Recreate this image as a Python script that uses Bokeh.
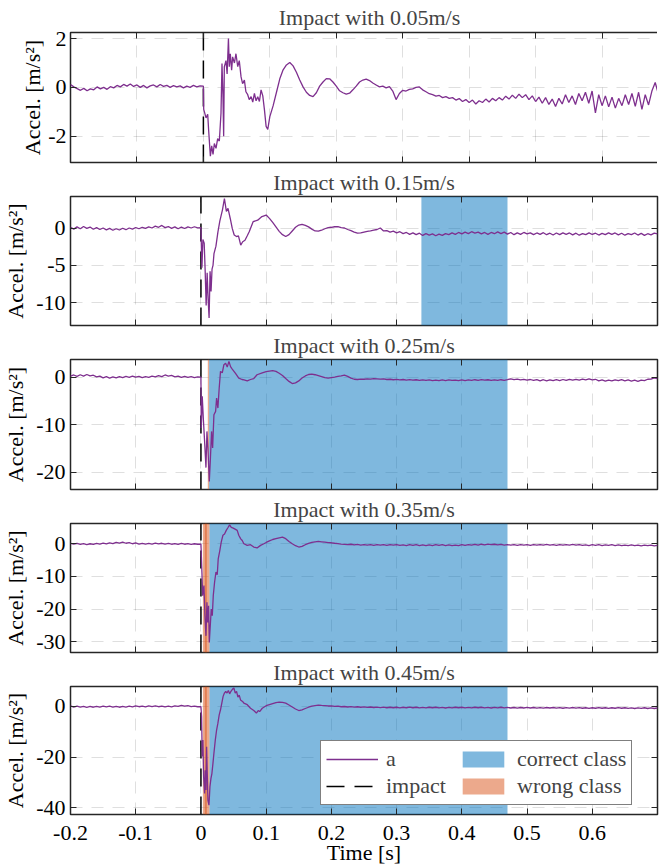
from bokeh.plotting import figure
from bokeh.layouts import column
from bokeh.models import Range1d, FixedTicker, LinearAxis, Legend, LegendItem, ColumnDataSource
from bokeh.embed import file_html
from bokeh.resources import INLINE

FONT = "Liberation Serif"
FS = "22px"
PURPLE = "#7E2F8E"
BLUE = "#0072BD"
ORANGE = "#D95319"

speeds = ["0.05", "0.15", "0.25", "0.35", "0.45"]
impact_t = 0.0

# ---------------- sample times ----------------
t_pre = [-0.200, -0.195, -0.190, -0.185, -0.180, -0.175, -0.170, -0.165, -0.160, -0.155,
         -0.150, -0.145, -0.140, -0.135, -0.130, -0.125, -0.120, -0.115, -0.110, -0.105,
         -0.100, -0.095, -0.090, -0.085, -0.080, -0.075, -0.070, -0.065, -0.060, -0.055,
         -0.050, -0.045, -0.040, -0.035, -0.030, -0.025, -0.020, -0.015, -0.010, -0.005]
t_tail = [0.100, 0.105, 0.110, 0.115, 0.120, 0.125, 0.130, 0.135, 0.140, 0.145,
          0.150, 0.155, 0.160, 0.165, 0.170, 0.175, 0.180, 0.185, 0.190, 0.195,
          0.200, 0.205, 0.210, 0.215, 0.220, 0.225, 0.230, 0.235, 0.240, 0.245,
          0.250, 0.255, 0.260, 0.265, 0.270, 0.275, 0.280, 0.285, 0.290, 0.295,
          0.300, 0.305, 0.310, 0.315, 0.320, 0.325, 0.330, 0.335, 0.340, 0.345,
          0.350, 0.355, 0.360, 0.365, 0.370, 0.375, 0.380, 0.385, 0.390, 0.395,
          0.400, 0.405, 0.410, 0.415, 0.420, 0.425, 0.430, 0.435, 0.440, 0.445,
          0.450, 0.455, 0.460, 0.465, 0.470, 0.475, 0.480, 0.485, 0.490, 0.495,
          0.500, 0.505, 0.510, 0.515, 0.520, 0.525, 0.530, 0.535, 0.540, 0.545,
          0.550, 0.555, 0.560, 0.565, 0.570, 0.575, 0.580, 0.585, 0.590, 0.595,
          0.600, 0.605, 0.610, 0.615, 0.620, 0.625, 0.630, 0.635, 0.640, 0.645,
          0.650, 0.655, 0.660, 0.665, 0.670, 0.675, 0.680, 0.685, 0.690, 0.695,
          0.700]

# ---------------- 0.05 m/s ----------------
a_pre_1 = [0.12, 0.02, -0.05, -0.12, -0.04, -0.14, -0.06, -0.10, 0.02, -0.06,
           0.00, -0.08, 0.03, -0.02, 0.08, 0.02, 0.12, 0.05, 0.14, 0.04,
           0.10, 0.00, 0.08, -0.02, 0.06, 0.10, 0.02, 0.12, 0.04, 0.08,
           0.00, 0.07, 0.02, 0.06, -0.02, 0.05, 0.00, 0.08, 0.02, 0.06]
t_imp_1 = [0.000, 0.0005, 0.004, 0.0065, 0.008, 0.0105, 0.0125, 0.0145, 0.0165, 0.019,
           0.0215, 0.024, 0.0265, 0.028, 0.0295, 0.0305, 0.0315, 0.034, 0.0357, 0.0377,
           0.039, 0.0405, 0.0425, 0.044, 0.0467, 0.049, 0.0517, 0.054, 0.0567, 0.059,
           0.0617, 0.064, 0.0667, 0.069, 0.0718, 0.0743, 0.0768, 0.0793, 0.0818, 0.0843,
           0.0868, 0.0894, 0.0919, 0.0944, 0.0969]
a_imp_1 = [0.05, -0.90, -1.25, -1.10, -1.80, -2.82, -2.40, -2.75, -2.30, -2.50,
           -2.10, -2.20, -1.06, 0.98, -0.40, -2.00, 0.84, 1.10, 0.55, 2.00,
           0.85, 1.38, 0.70, 1.25, 1.00, 1.38, 0.85, 1.10, 0.43, 0.15,
           0.30, -0.18, -0.30, -0.50, -0.38, -0.60, -0.25, -0.55, -0.38, -0.58,
           -0.10, -0.35, -0.92, -1.60, -1.72]
a_tail_1 = [-1.20, -0.75, -0.20, 0.35, 0.72, 0.92, 1.02, 0.88, 0.62, 0.30,
            0.02, -0.20, -0.33, -0.38, -0.22, 0.05, 0.22, 0.36, 0.35, 0.22,
            0.05, -0.14, -0.22, -0.28, -0.24, -0.10, 0.05, 0.22, 0.30, 0.34,
            0.28, 0.18, 0.10, 0.02, 0.05, -0.02, 0.03, -0.15, -0.50, -0.25,
            -0.12, -0.15, -0.08, -0.06, 0.00, 0.02, -0.10, -0.18, -0.26, -0.30,
            -0.36, -0.33, -0.42, -0.38, -0.45, -0.42, -0.52, -0.46, -0.58, -0.50,
            -0.62, -0.52, -0.68, -0.55, -0.62, -0.48, -0.60, -0.45, -0.55, -0.42,
            -0.52, -0.36, -0.48, -0.32, -0.45, -0.28, -0.42, -0.30, -0.50, -0.35,
            -0.58, -0.40, -0.65, -0.42, -0.70, -0.48, -0.78, -0.45, -0.68, -0.30,
            -0.62, -0.35, -0.70, -0.25, -0.55, -0.20, -0.65, -0.15, -1.05, -0.30,
            -0.75, -0.35, -0.80, -0.40, -0.85, -0.45, -0.75, -0.30, -0.70, -0.25,
            -0.78, -0.20, -0.90, -0.30, -0.72, -0.15, 0.20, -0.30, -0.65, -0.35,
            -0.50]

# ---------------- 0.15 m/s ----------------
a_pre_2 = [0.15, -0.10, 0.20, -0.05, 0.25, 0.00, 0.18, -0.12, 0.10, -0.15,
           0.05, -0.20, 0.00, -0.25, -0.05, -0.22, 0.02, -0.18, 0.05, -0.10,
           0.12, -0.05, 0.15, 0.00, 0.20, 0.05, 0.30, 0.15, 0.40, 0.10,
           0.25, 0.00, 0.20, -0.05, 0.18, -0.02, 0.20, 0.05, 0.22, 0.08]
t_imp_2 = [0.0000, 0.0015, 0.0030, 0.0050, 0.0065, 0.0080, 0.0095, 0.0110, 0.0125, 0.0140,
           0.0155, 0.0170, 0.0185, 0.0200, 0.0230, 0.0260, 0.0290, 0.0330, 0.0360, 0.0390,
           0.0415, 0.0450, 0.0480, 0.0510, 0.0545, 0.0575, 0.0610, 0.0640, 0.0675, 0.0710,
           0.0740, 0.0800, 0.0870, 0.0935]
a_imp_2 = [0.10, -5.3, -1.5, -2.0, -5.8, -10.4, -6.0, -9.5, -12.1, -5.8,
           -8.5, -5.5, -5.0, -3.4, -2.4, -0.5, 1.0, 2.5, 4.0, 2.3,
           2.7, 1.3, 0.0, -0.9, -1.1, -1.0, -2.25, -1.8, -1.6, -1.0,
           -0.45, 0.9, 1.1, 1.6]
a_tail_2 = [1.80, 1.35, 0.80, 0.20, -0.40, -0.85, -1.10, -0.85, -0.35, 0.15,
            0.45, 0.55, 0.40, 0.20, -0.10, -0.35, -0.38, -0.25, -0.05, 0.10,
            0.15, 0.22, 0.25, 0.10, 0.05, -0.15, -0.30, -0.50, -0.65, -0.62,
            -0.50, -0.40, -0.35, -0.25, -0.15, 0.05, -0.35, -0.30, -0.50, -0.38,
            -0.60, -0.45, -0.70, -0.55, -0.80, -0.60, -0.85, -0.65, -0.95, -0.70,
            -0.90, -0.75, -1.00, -0.78, -0.95, -0.70, -0.85, -0.60, -0.80, -0.55,
            -0.75, -0.50, -0.70, -0.45, -0.65, -0.50, -0.75, -0.55, -0.80, -0.55,
            -0.72, -0.48, -0.70, -0.50, -0.78, -0.55, -0.85, -0.60, -0.80, -0.55,
            -0.75, -0.60, -0.85, -0.62, -0.80, -0.58, -0.85, -0.65, -0.90, -0.62,
            -0.85, -0.60, -0.80, -0.62, -0.88, -0.65, -0.92, -0.70, -0.85, -0.60,
            -0.82, -0.65, -0.90, -0.68, -0.85, -0.60, -0.80, -0.62, -0.88, -0.66,
            -0.92, -0.70, -0.85, -0.62, -0.90, -0.68, -0.95, -0.72, -0.88, -0.65,
            -0.75]

# ---------------- 0.25 m/s ----------------
a_pre_3 = [0.20, 0.45, 0.15, 0.50, 0.20, 0.55, 0.25, 0.40, 0.05, 0.20,
           -0.15, 0.10, -0.20, 0.05, -0.15, 0.10, -0.10, 0.15, -0.05, 0.20,
           0.00, 0.15, -0.10, 0.10, -0.05, 0.20, 0.05, 0.30, 0.10, 0.45,
           0.20, 0.35, 0.05, 0.20, -0.05, 0.15, -0.05, 0.10, -0.10, 0.05]
t_imp_3 = [0.0000, 0.0005, 0.0020, 0.0036, 0.0056, 0.0077, 0.0092, 0.0107, 0.0128, 0.0143,
           0.0163, 0.0179, 0.0199, 0.0225, 0.0240, 0.0260, 0.0280, 0.0300, 0.0327, 0.0352,
           0.0378, 0.0403, 0.0429, 0.0454, 0.0480, 0.0530, 0.0580, 0.0630, 0.0660, 0.0710,
           0.0760, 0.0810, 0.0860, 0.0940]
a_imp_3 = [0.0, -10.7, -4.0, -8.6, -13.5, -19.0, -11.4, -14.9, -21.9, -17.7,
           -11.4, -14.9, -7.9, -7.2, -4.4, -6.5, -2.3, 1.2, 0.9, 2.6,
           2.9, 2.1, 3.3, 2.2, 1.7, 0.8, -0.2, -0.5, -0.6, -0.8,
           -0.5, -0.3, 0.5, 0.9]
a_tail_3 = [1.15, 1.25, 1.35, 1.20, 0.80, 0.35, -0.30, -0.90, -1.35, -1.20,
            -0.80, -0.20, 0.25, 0.55, 0.62, 0.50, 0.30, 0.10, -0.10, -0.20,
            -0.10, 0.00, 0.15, 0.25, 0.40, 0.15, -0.20, -0.45, -0.50, -0.40,
            -0.45, -0.35, -0.40, -0.30, -0.35, -0.42, -0.38, -0.50, -0.45, -0.55,
            -0.48, -0.58, -0.50, -0.62, -0.52, -0.65, -0.55, -0.68, -0.58, -0.70,
            -0.60, -0.72, -0.62, -0.75, -0.60, -0.72, -0.58, -0.70, -0.62, -0.75,
            -0.60, -0.72, -0.58, -0.70, -0.55, -0.68, -0.52, -0.65, -0.55, -0.68,
            -0.58, -0.70, -0.55, -0.68, -0.52, -0.35, -0.55, -0.40, -0.60, -0.45,
            -0.65, -0.50, -0.70, -0.52, -0.78, -0.55, -0.80, -0.60, -0.75, -0.55,
            -0.72, -0.50, -0.70, -0.48, -0.65, -0.45, -0.62, -0.40, -0.58, -0.35,
            -0.60, -0.45, -0.78, -0.60, -0.85, -0.62, -0.80, -0.58, -0.75, -0.55,
            -0.78, -0.60, -0.82, -0.65, -0.88, -0.62, -0.75, -0.45, -0.40, -0.15,
            -0.30]

# ---------------- 0.35 m/s ----------------
a_pre_4 = [0.15, -0.15, 0.10, -0.20, 0.05, -0.25, 0.00, -0.20, 0.10, -0.10,
           0.20, -0.05, 0.30, 0.05, 0.45, 0.20, 0.50, 0.15, 0.35, 0.00,
           0.25, -0.10, 0.15, -0.15, 0.10, -0.10, 0.20, -0.05, 0.15, -0.10,
           0.10, -0.15, 0.05, -0.20, 0.10, -0.15, 0.05, -0.20, 0.00, -0.15]
t_imp_4 = [0.0000, 0.0015, 0.0026, 0.0046, 0.0061, 0.0077, 0.0092, 0.0102, 0.0117, 0.0128,
           0.0143, 0.0158, 0.0174, 0.0189, 0.0209, 0.0230, 0.0250, 0.0265, 0.0290, 0.0311,
           0.0337, 0.0362, 0.0388, 0.0413, 0.0439, 0.0465, 0.0495, 0.0530, 0.0556, 0.0580,
           0.0610, 0.0633, 0.0658, 0.0710, 0.0760, 0.0810, 0.0860, 0.0914, 0.0965]
a_imp_4 = [-0.1, -8.7, -15.9, -12.8, -22.0, -28.2, -17.9, -24.1, -19.0, -30.2,
           -25.1, -20.0, -22.0, -15.9, -11.8, -8.7, -9.5, -4.6, -2.0, 0.5,
           2.6, 3.0, 4.1, 4.9, 5.8, 5.0, 4.8, 4.4, 4.1, 2.6,
           1.5, 1.0, 0.0, -0.5, -0.3, -1.0, -1.3, -0.5, 0.0]
a_tail_4 = [0.40, 0.90, 1.30, 1.55, 1.80, 2.00, 1.55, 0.70, 0.00, -0.60,
            -1.00, -0.80, -0.30, 0.10, 0.40, 0.60, 0.70, 0.60, 0.50, 0.35,
            0.30, 0.15, 0.05, -0.10, -0.20, -0.30, -0.15, -0.35, -0.20, -0.40,
            -0.25, -0.45, -0.30, -0.50, -0.30, -0.45, -0.25, -0.50, -0.30, -0.45,
            -0.25, -0.50, -0.35, -0.55, -0.30, -0.50, -0.30, -0.55, -0.35, -0.60,
            -0.35, -0.55, -0.30, -0.50, -0.30, -0.55, -0.35, -0.60, -0.40, -0.55,
            -0.30, -0.50, -0.25, -0.45, -0.20, -0.40, -0.15, -0.35, -0.10, -0.30,
            -0.15, -0.35, -0.20, -0.40, -0.25, -0.45, -0.30, -0.50, -0.30, -0.45,
            -0.25, -0.50, -0.30, -0.45, -0.25, -0.40, -0.20, -0.45, -0.25, -0.50,
            -0.30, -0.45, -0.25, -0.40, -0.20, -0.45, -0.30, -0.50, -0.35, -0.55,
            -0.30, -0.50, -0.30, -0.55, -0.35, -0.50, -0.30, -0.55, -0.35, -0.60,
            -0.40, -0.55, -0.35, -0.60, -0.40, -0.65, -0.45, -0.60, -0.40, -0.65,
            -0.50]

# ---------------- 0.45 m/s ----------------
a_pre_5 = [0.20, -0.25, 0.10, -0.30, 0.05, -0.35, 0.00, -0.30, 0.05, -0.25,
           0.15, -0.20, 0.10, -0.25, 0.05, -0.30, 0.00, -0.25, 0.10, -0.20,
           0.20, -0.10, 0.15, -0.15, 0.25, -0.05, 0.20, -0.10, 0.15, -0.20,
           0.10, -0.15, 0.20, 0.05, 0.45, 0.10, 0.30, -0.05, 0.15, -0.10]
t_imp_5 = [0.0000, 0.0010, 0.0020, 0.0030, 0.0041, 0.0056, 0.0066, 0.0077, 0.0087, 0.0097,
           0.0107, 0.0123, 0.0138, 0.0153, 0.0168, 0.0184, 0.0199, 0.0220, 0.0240, 0.0260,
           0.0280, 0.0300, 0.0320, 0.0340, 0.0360, 0.0380, 0.0400, 0.0420, 0.0440, 0.0460,
           0.0485, 0.0505, 0.0526, 0.0546, 0.0567, 0.0587, 0.0607, 0.0638, 0.0658, 0.0710,
           0.0760, 0.0810, 0.0850, 0.0878, 0.0900, 0.0940]
a_imp_5 = [-0.1, -4.0, -19.8, -13.3, -27.8, -34.4, -25.2, -33.0, -15.9, -26.5,
           -37.1, -39.0, -31.7, -28.5, -26.5, -22.5, -18.5, -13.3, -9.3, -6.6,
           -3.3, -1.3, 1.3, 4.0, 5.3, 6.0, 5.3, 6.3, 5.0, 6.0,
           6.9, 7.3, 5.3, 6.0, 3.7, 4.5, 2.6, 2.0, 1.3, 0.7,
           -0.7, -1.6, -2.6, -1.6, -2.0, -0.7]
a_tail_5 = [0.30, 0.70, 1.10, 1.50, 1.70, 1.60, 1.30, 0.60, -0.20, -1.00,
            -1.60, -1.30, -0.80, -0.30, 0.10, 0.30, 0.50, 0.40, 0.35, 0.20,
            0.25, 0.05, 0.10, -0.10, 0.00, -0.20, -0.05, -0.25, -0.10, -0.30,
            -0.15, -0.35, -0.20, -0.40, -0.25, -0.45, -0.25, -0.50, -0.30, -0.50,
            -0.30, -0.55, -0.30, -0.50, -0.25, -0.50, -0.30, -0.55, -0.35, -0.55,
            -0.30, -0.50, -0.30, -0.55, -0.35, -0.60, -0.35, -0.55, -0.30, -0.50,
            -0.30, -0.55, -0.35, -0.55, -0.30, -0.50, -0.30, -0.55, -0.35, -0.60,
            -0.35, -0.55, -0.30, -0.55, -0.35, -0.60, -0.40, -0.65, -0.40, -0.60,
            -0.35, -0.60, -0.40, -0.65, -0.45, -0.65, -0.40, -0.60, -0.40, -0.65,
            -0.45, -0.70, -0.45, -0.65, -0.40, -0.65, -0.45, -0.70, -0.50, -0.75,
            -0.50, -0.70, -0.45, -0.70, -0.50, -0.75, -0.50, -0.70, -0.45, -0.70,
            -0.50, -0.75, -0.55, -0.80, -0.55, -0.75, -0.50, -0.80, -0.55, -0.80,
            -0.60]

# classification windows [start, end] in s
correct_1 = []
correct_2 = [(0.338, 0.470)]
correct_3 = [(0.0125, 0.470)]
correct_4 = [(0.013, 0.470)]
correct_5 = [(0.013, 0.470)]
wrong_1 = []
wrong_2 = []
wrong_3 = [(0.0105, 0.0125)]
wrong_4 = [(0.003, 0.009), (0.006, 0.013)]
wrong_5 = [(0.003, 0.009), (0.006, 0.013)]

x_ticks = [-0.2, -0.1, 0.0, 0.1, 0.2, 0.3, 0.4, 0.5, 0.6]
x_tick_labels = ["-0.2", "-0.1", "0", "0.1", "0.2", "0.3", "0.4", "0.5", "0.6"]

panels = [
    dict(a_pre=a_pre_1, t_imp=t_imp_1, a_imp=a_imp_1, a_tail=a_tail_1, ylim=(-3.08, 2.25),
         yticks=[-2, 0, 2], correct=correct_1, wrong=wrong_1),
    dict(a_pre=a_pre_2, t_imp=t_imp_2, a_imp=a_imp_2, a_tail=a_tail_2, ylim=(-13.1, 4.3),
         yticks=[-10, -5, 0], correct=correct_2, wrong=wrong_2),
    dict(a_pre=a_pre_3, t_imp=t_imp_3, a_imp=a_imp_3, a_tail=a_tail_3, ylim=(-23.6, 3.7),
         yticks=[-20, -10, 0], correct=correct_3, wrong=wrong_3),
    dict(a_pre=a_pre_4, t_imp=t_imp_4, a_imp=a_imp_4, a_tail=a_tail_4, ylim=(-33.3, 6.2),
         yticks=[-30, -20, -10, 0], correct=correct_4, wrong=wrong_4),
    dict(a_pre=a_pre_5, t_imp=t_imp_5, a_imp=a_imp_5, a_tail=a_tail_5, ylim=(-42.7, 7.9),
         yticks=[-40, -20, 0], correct=correct_5, wrong=wrong_5),
]

frame_w = [598, 587, 587, 587, 587]
border_l = [55, 66, 66, 66, 66]
frame_h = [130, 129, 130, 129, 128]
title_gap = [5, 4, 4, 4, 4]
ylab_gap = [0, 5, 5, 5, 5]
ytick_gap = [4, 5, 5, 5, 5]


def hidden_axis(ticker):
    return LinearAxis(ticker=ticker, major_label_text_font_size="1px",
                      major_label_text_color=None, major_label_text_alpha=0,
                      major_label_standoff=0, major_tick_in=6, major_tick_out=0,
                      minor_tick_in=0, minor_tick_out=0,
                      axis_line_color=None, minor_tick_line_color=None,
                      major_tick_line_color="#262626")


figs = []
for i, P in enumerate(panels):
    last = (i == len(panels) - 1)
    ylo, yhi = P["ylim"]
    xt = FixedTicker(ticks=x_ticks)
    yt = FixedTicker(ticks=P["yticks"])
    p = figure(frame_width=frame_w[i], frame_height=frame_h[i],
               x_range=Range1d(-0.2, 0.7), y_range=Range1d(ylo, yhi),
               output_backend="svg", toolbar_location=None,
               title=f"Impact with {speeds[i]}m/s",
               x_axis_location=None if not last else "below",
               min_border_left=border_l[i], min_border_right=4,
               min_border_top=0, min_border_bottom=(0 if last else 3))
    p.title.text_font = FONT
    p.title.text_font_size = FS
    p.title.text_font_style = "normal"
    p.title.align = "center"
    p.title.standoff = title_gap[i]
    p.title.offset = 0
    p.outline_line_color = "#262626"
    p.outline_line_width = 1.5
    p.outline_line_alpha = 1.0

    # grids
    p.xgrid.ticker = xt
    p.ygrid.ticker = yt
    for g in (p.xgrid, p.ygrid):
        g.grid_line_color = "#262626"
        g.grid_line_alpha = 0.15
        g.grid_line_dash = "12 9"
        g.grid_line_width = 1

    # axes
    axes = [p.yaxis[0]] + ([p.xaxis[0]] if last else [])
    for ax in axes:
        ax.axis_line_color = None
        ax.major_tick_in = 6
        ax.major_tick_out = 0
        ax.minor_tick_in = 0
        ax.minor_tick_out = 0
        ax.minor_tick_line_color = None
        ax.major_tick_line_color = "#262626"
        ax.major_label_text_font = FONT
        ax.major_label_text_font_size = FS
        ax.major_label_text_color = "black"
        ax.axis_label_text_font = FONT
        ax.axis_label_text_font_size = FS
        ax.axis_label_text_font_style = "normal"
        ax.axis_label_text_color = "black"
    p.yaxis.ticker = yt
    p.yaxis.major_label_overrides = {v: str(v) for v in P["yticks"]}
    p.yaxis.axis_label = "Accel. [m/s²]"
    p.yaxis.major_label_standoff = ytick_gap[i]
    p.yaxis.axis_label_standoff = ylab_gap[i]
    if last:
        p.xaxis.ticker = xt
        p.xaxis.major_label_overrides = {v: s for v, s in zip(x_ticks, x_tick_labels)}
        p.xaxis.axis_label = "Time [s]"
        p.xaxis.major_label_standoff = 11
        p.xaxis.axis_label_standoff = -3
    else:
        p.add_layout(hidden_axis(xt), "below")

    # tick marks on top and right borders
    p.add_layout(hidden_axis(xt), "above")
    p.add_layout(hidden_axis(yt), "right")

    # classification windows
    r_blue = None
    r_orange = None
    if P["correct"]:
        r_blue = p.quad(left=[w[0] for w in P["correct"]], right=[w[1] for w in P["correct"]],
                        bottom=ylo, top=yhi, fill_color=BLUE, fill_alpha=0.5, line_color=None)
    if P["wrong"]:
        r_orange = p.quad(left=[w[0] for w in P["wrong"]], right=[w[1] for w in P["wrong"]],
                          bottom=ylo, top=yhi, fill_color=ORANGE, fill_alpha=0.5, line_color=None)

    # impact marker
    r_imp = p.line(x=[impact_t, impact_t], y=[ylo, yhi], line_color="black",
                   line_width=1.5, line_dash="18 10")

    # signal
    src = ColumnDataSource(dict(t=t_pre + P["t_imp"] + t_tail,
                                a=P["a_pre"] + P["a_imp"] + P["a_tail"]))
    r_sig = p.line("t", "a", source=src, line_color=PURPLE, line_width=1.3)

    if last:
        legend = Legend(items=[LegendItem(label="a", renderers=[r_sig]),
                               LegendItem(label="impact", renderers=[r_imp]),
                               LegendItem(label="correct class", renderers=[r_blue]),
                               LegendItem(label="wrong class", renderers=[r_orange])],
                        ncols=2, location=(250, 9), margin=0, padding=5, spacing=1,
                        glyph_width=52, glyph_height=20, label_standoff=8, label_width=70,
                        label_text_font=FONT, label_text_font_size=FS,
                        border_line_color="black", border_line_width=1,
                        background_fill_color="white", background_fill_alpha=1.0)
        p.add_layout(legend)
    figs.append(p)

layout = column(*figs, spacing=0)
open("out.html", "w").write(file_html(layout, INLINE))
